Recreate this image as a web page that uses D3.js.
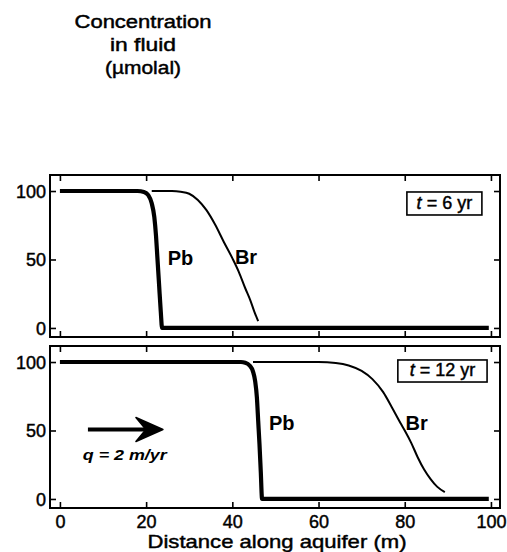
<!DOCTYPE html>
<html>
<head>
<meta charset="utf-8">
<script src="https://cdn.jsdelivr.net/npm/d3@7"></script>
<style>
  body { margin: 0; background: #fff; }
  text { font-family: "Liberation Sans", Arial, Helvetica, sans-serif; fill: #000; }
  .heavy { stroke: #000; stroke-width: 0.45px; }
</style>
</head>
<body>
<div id="chart"></div>
<script>
// concentration profiles, [distance (m), concentration (µmolal)]
const pb6 = [[0,100],[18,100],[19.5,99.3],[20.5,97],[21.3,91],[21.9,81],[22.3,67],[22.6,52],[23,32],[23.4,12],[23.7,0],[99.5,0]];
const br6 = [[21.3,100],[26,100],[28,99.5],[30,98],[32,93.5],[34,86],[36,75.5],[38,63],[40,51],[41.5,41],[43,29],[44.2,20],[45.1,12],[46,5]];
const pb12 = [[0,100],[42,100],[43,99.5],[44,97.5],[44.8,93],[45.3,86],[45.7,74],[46,57],[46.3,40],[46.6,20],[46.9,0],[99.5,0]];
const br12 = [[44.8,100],[60,100],[64,99.3],[67,97.5],[70,93.5],[72.5,87.5],[75,78],[77,67],[79,55.5],[80,50],[81.5,41],[83,30.5],[84.5,21.5],[86,14.5],[87.5,9],[89.3,5]];

const xTicks = [0, 20, 40, 60, 80, 100];
const yTicks = [0, 50, 100];
const timeLabels = ["6 yr", "12 yr"];

const width = 507, height = 552;
const left = 50, right = 500;

const svg = d3.select("#chart").append("svg")
  .attr("width", width)
  .attr("height", height);

const x = d3.scaleLinear().domain([-2.3, 102.1]).range([left, right]);

// two stacked panels
const panels = [
  { top: 175, bottom: 337, pb: pb6, br: br6, t: timeLabels[0],
    pbLab: [25, 46], brLab: [40.6, 47], box: [80.5, 97.9, 99.3, 82.5] },
  { top: 346, bottom: 508, pb: pb12, br: br12, t: timeLabels[1],
    pbLab: [48.5, 50], brLab: [80.2, 50], box: [78.4, 99.1, 101.5, 85.4] }
];

panels.forEach((p, i) => {
  const y = d3.scaleLinear().domain([-6.6, 111.7]).range([p.bottom, p.top]);
  const g = svg.append("g");

  // frame
  g.append("rect")
    .attr("x", left).attr("y", p.top)
    .attr("width", right - left).attr("height", p.bottom - p.top)
    .attr("fill", "none").attr("stroke", "#000").attr("stroke-width", 2);

  // inward ticks on all four sides
  const axB = g.append("g")
    .attr("transform", `translate(0,${p.bottom})`)
    .call(d3.axisBottom(x).tickValues(xTicks).tickSizeInner(-6).tickSizeOuter(0).tickPadding(7)
      .tickFormat(i === 1 ? d3.format("d") : ""));
  const axT = g.append("g")
    .attr("transform", `translate(0,${p.top})`)
    .call(d3.axisTop(x).tickValues(xTicks).tickSizeInner(-6).tickSizeOuter(0).tickFormat(""));
  const axL = g.append("g")
    .attr("transform", `translate(${left},0)`)
    .call(d3.axisLeft(y).tickValues(yTicks).tickSizeInner(-6).tickSizeOuter(0).tickPadding(4));
  const axR = g.append("g")
    .attr("transform", `translate(${right},0)`)
    .call(d3.axisRight(y).tickValues(yTicks).tickSizeInner(-6).tickSizeOuter(0).tickFormat(""));

  [axB, axT, axL, axR].forEach(a => {
    a.select(".domain").remove();
    a.selectAll(".tick line").attr("stroke-width", 1.6);
    a.selectAll("text")
      .attr("class", "heavy")
      .style("font-family", '"Liberation Sans", Arial, sans-serif')
      .style("font-size", "18px");
  });
  axL.selectAll("text").attr("dy", "0.36em");

  const line = d3.line()
    .x(d => x(d[0]))
    .y(d => y(d[1]))
    .curve(d3.curveMonotoneX);

  g.append("path").datum(p.br)
    .attr("d", line)
    .attr("fill", "none").attr("stroke", "#000").attr("stroke-width", 2);

  g.append("path").datum(p.pb)
    .attr("d", line)
    .attr("fill", "none").attr("stroke", "#000").attr("stroke-width", 4.2)
    .attr("stroke-linejoin", "round");

  g.append("text")
    .attr("x", x(p.pbLab[0])).attr("y", y(p.pbLab[1]))
    .style("font-size", "20px").style("font-weight", "bold")
    .text("Pb");
  g.append("text")
    .attr("x", x(p.brLab[0])).attr("y", y(p.brLab[1]))
    .style("font-size", "20px").style("font-weight", "bold")
    .text("Br");

  // time label box
  const b = p.box;
  g.append("rect")
    .attr("x", x(b[0])).attr("y", y(b[2]))
    .attr("width", x(b[1]) - x(b[0])).attr("height", y(b[3]) - y(b[2]))
    .attr("fill", "#fff").attr("stroke", "#000").attr("stroke-width", 1.6);
  const tl = g.append("text")
    .attr("x", (x(b[0]) + x(b[1])) / 2)
    .attr("y", y(b[3]) - 6)
    .attr("text-anchor", "middle")
    .attr("class", "heavy")
    .style("font-size", "18px");
  tl.append("tspan").style("font-style", "italic").text("t");
  tl.append("tspan").text(" = " + p.t);

  if (i === 1) {
    // flow direction arrow
    const ay = y(50.7);
    g.append("line")
      .attr("x1", x(6.5)).attr("x2", x(21.5))
      .attr("y1", ay).attr("y2", ay)
      .attr("stroke", "#000").attr("stroke-width", 4);
    const tip = x(23.9);
    g.append("path")
      .attr("d", `M${tip},${ay} L${tip - 27},${ay - 12} L${tip - 17},${ay} L${tip - 27},${ay + 12} Z`)
      .attr("fill", "#000").attr("stroke", "#000").attr("stroke-width", 1.5)
      .attr("stroke-linejoin", "round");
    g.append("text")
      .attr("x", x(5.3)).attr("y", y(28.5))
      .attr("textLength", 84).attr("lengthAdjust", "spacingAndGlyphs")
      .style("font-size", "15px").style("font-weight", "bold").style("font-style", "italic")
      .text("q = 2 m/yr");
  }
});

// axis title
svg.append("text")
  .attr("x", 277).attr("y", 548)
  .attr("text-anchor", "middle")
  .attr("class", "heavy")
  .attr("textLength", 259).attr("lengthAdjust", "spacingAndGlyphs")
  .style("font-size", "19px")
  .text("Distance along aquifer (m)");

// y label
const yTitle = ["Concentration", "in fluid", "(µmolal)"];
const yTitleW = [137, 66, 76];
yTitle.forEach((s, k) => {
  svg.append("text")
    .attr("x", 143).attr("y", 28 + k * 23)
    .attr("text-anchor", "middle")
    .attr("class", "heavy")
    .attr("textLength", yTitleW[k]).attr("lengthAdjust", "spacingAndGlyphs")
    .style("font-size", "18px")
    .text(s);
});
</script>
</body>
</html>
